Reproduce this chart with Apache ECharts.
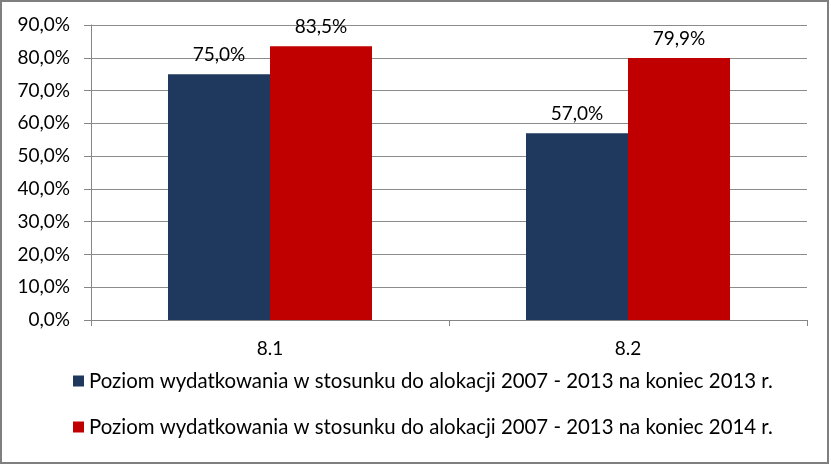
<!DOCTYPE html>
<html>
<head>
<meta charset="utf-8">
<script src="https://cdn.jsdelivr.net/npm/echarts@6/dist/echarts.min.js"></script>
<style>
  html, body { margin: 0; padding: 0; background: #fff; }
  #chart { width: 831px; height: 465px; }
</style>
</head>
<body>
<div id="chart"></div>
<script>
// Chart data
const categories = ['8.1', '8.2'];
const seriesNames = [
    'Poziom wydatkowania w stosunku do alokacji 2007 - 2013 na koniec 2013 r.',
    'Poziom wydatkowania w stosunku do alokacji 2007 - 2013 na koniec 2014 r.'
];
const values2013 = [75.0, 57.0];
const values2014 = [83.5, 79.9];
const seriesColors = ['#1F385D', '#C00000'];

const fontFamily = 'Lato, "Open Sans", sans-serif';
const pct = v => v.toFixed(1).replace('.', ',') + '%';

const chart = echarts.init(document.getElementById('chart'));

chart.setOption({
    animation: false,
    textStyle: { fontFamily: fontFamily },
    grid: { left: 91, right: 24, top: 25, bottom: 145 },
    legend: {
        orient: 'vertical',
        left: 68,
        top: 366,
        itemWidth: 11,
        itemHeight: 11,
        itemGap: 26,
        icon: 'rect',
        textStyle: { fontSize: 20.4, color: '#000', fontFamily: fontFamily },
        data: seriesNames
    },
    xAxis: {
        type: 'category',
        data: categories,
        axisLine: { lineStyle: { color: '#868686', width: 1 } },
        axisTick: { show: true, length: 6, lineStyle: { color: '#868686' } },
        axisLabel: { fontSize: 19, color: '#000', margin: 19 }
    },
    yAxis: {
        type: 'value',
        min: 0,
        max: 90,
        interval: 10,
        axisLine: { show: true, lineStyle: { color: '#868686' } },
        axisTick: { show: true, length: 7, lineStyle: { color: '#868686' } },
        axisLabel: { fontSize: 19, color: '#000', margin: 21, formatter: pct },
        splitLine: { lineStyle: { color: '#8C8C8C', width: 1 } }
    },
    series: [
        {
            name: seriesNames[0],
            type: 'bar',
            data: values2013,
            barWidth: 102,
            barGap: '0%',
            itemStyle: { color: seriesColors[0] },
            label: { show: true, position: 'top', distance: 10, fontSize: 19, color: '#000', formatter: p => pct(p.value) }
        },
        {
            name: seriesNames[1],
            type: 'bar',
            data: values2014,
            barWidth: 102,
            barGap: '0%',
            itemStyle: { color: seriesColors[1] },
            label: { show: true, position: 'top', distance: 10, fontSize: 19, color: '#000', formatter: p => pct(p.value) }
        }
    ],
    graphic: [{
        type: 'rect',
        shape: { x: 1, y: 1, width: 827, height: 462 },
        style: { fill: 'none', stroke: '#7F7F7F', lineWidth: 2 },
        silent: true
    }]
});
</script>
</body>
</html>
